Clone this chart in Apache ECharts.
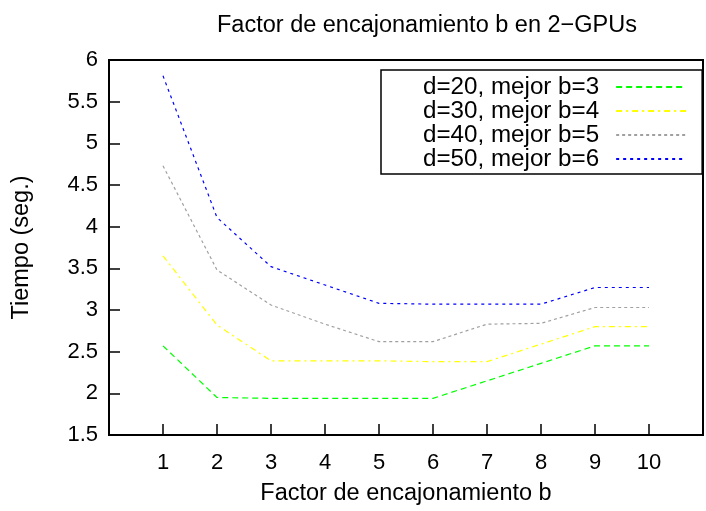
<!DOCTYPE html>
<html>
<head>
<meta charset="utf-8">
<script src="https://cdn.jsdelivr.net/npm/echarts@6/dist/echarts.min.js"></script>
<style>
  html, body { margin: 0; padding: 0; background: #fff; }
  #chart { width: 706px; height: 511px; }
</style>
</head>
<body>
<div id="chart"></div>
<script>
// factor b (x axis)
const factors = [1, 2, 3, 4, 5, 6, 7, 8, 9, 10]
const seriesNames = ['d=20, mejor b=3', 'd=30, mejor b=4', 'd=40, mejor b=5', 'd=50, mejor b=6']
// tiempo (seg.) per factor
const d20 = [2.57, 1.95, 1.94, 1.94, 1.94, 1.94, 2.15, 2.36, 2.57, 2.57]
const d30 = [3.65, 2.82, 2.39, 2.39, 2.39, 2.38, 2.38, 2.59, 2.80, 2.80]
const d40 = [4.73, 3.48, 3.06, 2.83, 2.62, 2.62, 2.83, 2.84, 3.03, 3.03]
const d50 = [5.81, 4.11, 3.52, 3.30, 3.08, 3.07, 3.07, 3.07, 3.27, 3.27]

const font = 'Liberation Sans, Arial, Helvetica, sans-serif'
const chart = echarts.init(document.getElementById('chart'))

const pairs = (ys) => factors.map((x, i) => [x, ys[i]])

const mkLine = (name, ys, color, dash) => ({
  name,
  type: 'line',
  data: pairs(ys),
  symbol: 'none',
  lineStyle: { color, width: 1.2, type: dash },
  itemStyle: { color },
  animation: false,
})

const option = {
  animation: false,
  title: {
    text: 'Factor de encajonamiento b en 2\u2212GPUs',
    left: 212,
    top: 9,
    textStyle: { fontFamily: font, fontSize: 23.5, fontWeight: 'normal', color: '#000' },
  },
  legend: {
    orient: 'vertical',
    left: 381,
    top: 70,
    align: 'right',
    itemWidth: 70,
    itemHeight: 10,
    itemGap: 0,
    padding: [5, 15, 3, 42],
    borderColor: '#000',
    borderWidth: 1.5,
    itemStyle: { opacity: 0 },
    textStyle: { fontFamily: font, fontSize: 24.2, color: '#000', lineHeight: 23.5, padding: [0, 12, 0, 0] },
    data: seriesNames,
  },
  grid: {
    left: 109,
    top: 60,
    width: 605,
    height: 377.7,
    show: true,
    borderColor: '#000',
    borderWidth: 2,
    containLabel: false,
  },
  xAxis: {
    type: 'value',
    min: 0,
    max: 11,
    interval: 1,
    name: 'Factor de encajonamiento b',
    nameLocation: 'middle',
    nameGap: 47,
    nameTextStyle: { fontFamily: font, fontSize: 23.5, color: '#000' },
    axisLine: { show: true, lineStyle: { color: '#000', width: 2 } },
    axisTick: { show: true, inside: true, length: 11, lineStyle: { color: '#000', width: 1.5 } },
    axisLabel: {
      margin: 17,
      fontFamily: font,
      fontSize: 22,
      color: '#000',
      formatter: (v) => (v >= 1 && v <= 10 ? String(v) : ''),
    },
    splitLine: { show: false },
  },
  yAxis: {
    type: 'value',
    min: 1.5,
    max: 6,
    interval: 0.5,
    name: 'Tiempo (seg.)',
    nameLocation: 'middle',
    nameGap: 75,
    nameTextStyle: { fontFamily: font, fontSize: 23.5, color: '#000' },
    axisLine: { show: true, lineStyle: { color: '#000', width: 2 } },
    axisTick: { show: true, inside: true, length: 11, lineStyle: { color: '#000', width: 1.5 } },
    axisLabel: { margin: 11, fontFamily: font, fontSize: 22, color: '#000' },
    splitLine: { show: false },
  },
  series: [
    mkLine(seriesNames[0], d20, '#00ff00', [6, 4]),
    mkLine(seriesNames[1], d30, '#ffff00', [6, 4, 2, 4]),
    mkLine(seriesNames[2], d40, '#a0a0a0', [3, 3]),
    mkLine(seriesNames[3], d50, '#0000ff', [3, 4]),
  ],
}

chart.setOption(option)
</script>
</body>
</html>
